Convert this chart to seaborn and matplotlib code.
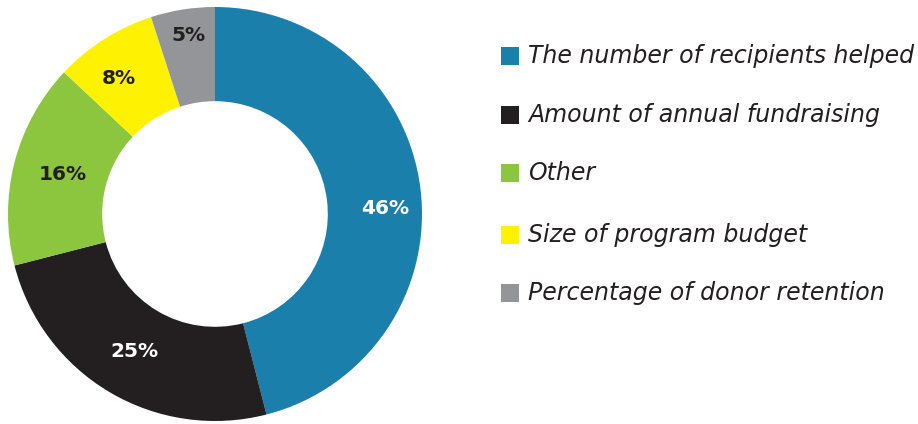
import matplotlib
matplotlib.use("Agg")
import matplotlib.pyplot as plt
from matplotlib.patches import Rectangle
import seaborn as sns

# Survey results: how success is measured
categories = [
    "The number of recipients helped",
    "Amount of annual fundraising",
    "Other",
    "Size of program budget",
    "Percentage of donor retention",
]
shares = [46, 25, 16, 8, 5]
colors = ["#1b7fab", "#231f20", "#8cc63f", "#fff200", "#939598"]
label_colors = ["white", "white", "#231f20", "#231f20", "#231f20"]
# hand-placed label anchors inside each ring segment (axis units, radius = 1)
label_pos = [(0.821, 0.027), (-0.391, -0.664), (-0.737, 0.193), (-0.464, 0.657), (-0.126, 0.860)]

sns.set_theme(style="white")
plt.rcParams["font.family"] = ["DejaVu Sans"]

W, H = 918, 424
fig = plt.figure(figsize=(W / 100, H / 100), dpi=100)

# donut placement in pixels
cx, cy, R = 215, 214, 207
ax = fig.add_axes([(cx - R) / W, (H - cy - R) / H, 2 * R / W, 2 * R / H])

wedges, texts, autotexts = ax.pie(
    shares,
    colors=colors,
    startangle=90,
    counterclock=False,
    radius=1.0,
    wedgeprops=dict(width=0.455, linewidth=0),
    autopct=lambda p: f"{p:.0f}%",
    pctdistance=0.78,
    textprops=dict(fontsize=14.5, fontweight="bold"),
)
for t, c, pos in zip(autotexts, label_colors, label_pos):
    t.set_color(c)
    t.set_position(pos)
ax.set_xlim(-1, 1)
ax.set_ylim(-1, 1)
ax.set_aspect("equal")
ax.axis("off")

# legend drawn as swatches + italic labels
x_sq, sq = 501, 18
x_txt = 528
rows_y = [56, 115, 173, 235, 293]
for cat, col, y in zip(categories, colors, rows_y):
    fig.add_artist(Rectangle(((x_sq) / W, (H - y - sq / 2) / H), sq / W, sq / H,
                             transform=fig.transFigure, facecolor=col, edgecolor="none"))
    fig.text(x_txt / W, (H - y) / H, cat, fontsize=17, fontstyle="italic",
             color="#231f20", va="center", ha="left")

fig.savefig("out.png", dpi=100, facecolor="white")
